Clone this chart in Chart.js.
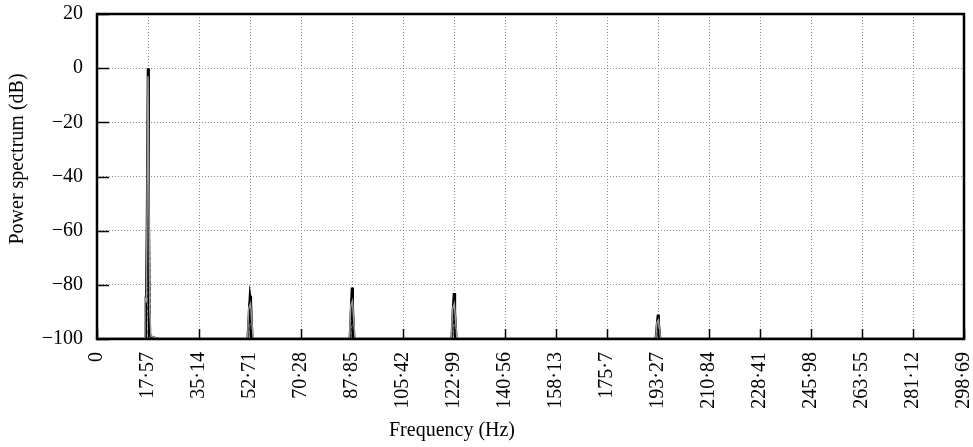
<!DOCTYPE html>
<html>
<head>
<meta charset="utf-8">
<script src="https://cdn.jsdelivr.net/npm/chart.js@4"></script>
<style>
  html, body { margin: 0; padding: 0; background: #fff; }
  #wrap { width: 973px; height: 447px; }
</style>
</head>
<body>
<div id="wrap"><canvas id="spectrum" width="973" height="447"></canvas></div>
<script>
// tick values and labels (x: Hz, y: dB)
const xTicks = [0, 17.57, 35.14, 52.71, 70.28, 87.85, 105.42, 122.99, 140.56, 158.13, 175.7, 193.27, 210.84, 228.41, 245.98, 263.55, 281.12, 298.69];
const xTickLabels = ["0", "17·57", "35·14", "52·71", "70·28", "87·85", "105·42", "122·99", "140·56", "158·13", "175·7", "193·27", "210·84", "228·41", "245·98", "263·55", "281·12", "298·69"];
const yTicks = [20, 0, -20, -40, -60, -80, -100];

// solid black spectrum
const freqA = [0, 16.8, 17.2, 17.57, 17.8, 18.0, 18.4, 20.8, 51.9, 52.3, 52.71, 53.0, 53.5, 87.1, 87.5, 87.85, 88.1, 88.6, 122.2, 122.6, 122.99, 123.3, 123.8, 192.5, 192.9, 193.27, 193.5, 194.0, 298.69];
const powA  = [-100, -100, -60, 0, -45, -97, -99, -100, -100, -92, -84, -86, -100, -100, -90, -81, -88, -100, -100, -90, -83, -90, -100, -100, -95, -91, -94, -100, -100];

// dashed spectrum
const freqB = [0, 17.0, 17.4, 17.6, 17.9, 18.3, 21.2, 52.1, 52.6, 52.8, 53.3, 87.3, 87.8, 87.9, 88.4, 122.4, 122.9, 123.0, 123.6, 192.7, 193.2, 193.3, 193.9, 298.69];
const powB  = [-100, -100, -35, -2, -50, -99, -100, -100, -86, -88, -100, -100, -83, -85, -100, -100, -85, -87, -100, -100, -92, -93, -100, -100];

// grey spectrum
const freqC = [0, 16.4, 16.5, 17.0, 17.57, 18.2, 18.6, 21.3, 51.9, 52.2, 52.9, 53.8, 87.0, 87.4, 88.0, 88.9, 122.1, 122.5, 123.1, 124.0, 192.5, 192.9, 193.4, 194.1, 298.69];
const powC  = [-100, -100, -85, -86, -3, -90, -99, -100, -100, -89, -87, -100, -100, -88, -86, -100, -100, -89, -87, -100, -100, -94, -93, -100, -100];

const pts = (xs, ys) => xs.map((x, i) => ({ x: x, y: ys[i] }));

const serif = "'Liberation Serif', 'DejaVu Serif', serif";

const frame = {
  id: "frame",
  afterDatasetsDraw(chart) {
    const { ctx, chartArea: a, scales } = chart;
    ctx.save();
    ctx.strokeStyle = "#000";
    ctx.lineWidth = 1.5;
    ctx.beginPath();
    // inward tick marks
    scales.y.ticks.forEach(t => {
      const py = Math.round(scales.y.getPixelForValue(t.value)) + 0.5;
      ctx.moveTo(a.left, py);
      ctx.lineTo(a.left + 12, py);
    });
    scales.x.ticks.forEach(t => {
      const px = Math.round(scales.x.getPixelForValue(t.value)) + 0.5;
      ctx.moveTo(px, a.bottom);
      ctx.lineTo(px, a.bottom - 10);
    });
    ctx.stroke();
    ctx.lineWidth = 2.5;
    ctx.strokeRect(a.left, a.top, a.right - a.left, a.bottom - a.top);

    // axis titles
    ctx.fillStyle = "#000";
    ctx.font = "20px " + serif;
    ctx.textAlign = "center";
    ctx.textBaseline = "middle";
    ctx.fillText("Frequency (Hz)", 452, 431);
    ctx.translate(18, 159);
    ctx.rotate(-Math.PI / 2);
    ctx.fillText("Power spectrum (dB)", 0, 0);
    ctx.restore();
  }
};

new Chart(document.getElementById("spectrum"), {
  type: "line",
  data: {
    datasets: [
      { data: pts(freqC, powC), borderColor: "#9a9a9a", borderWidth: 1.5 },
      { data: pts(freqB, powB), borderColor: "#000", borderWidth: 1.8, borderDash: [4, 2] },
      { data: pts(freqA, powA), borderColor: "#000", borderWidth: 2.5 }
    ]
  },
  options: {
    responsive: false,
    animation: false,
    layout: { padding: { top: 14, right: 9, left: 0, bottom: 0 } },
    elements: { point: { radius: 0 }, line: { tension: 0 } },
    plugins: { legend: { display: false }, tooltip: { enabled: false } },
    scales: {
      x: {
        type: "linear",
        min: 0,
        max: 298.69,
        afterBuildTicks: s => { s.ticks = xTicks.map(v => ({ value: v })); },
        afterFit: s => { s.height = 108; s.paddingLeft = 0; s.paddingRight = 0; },
        grid: { color: "#8a8a8a", lineWidth: 1, drawTicks: false },
        border: { display: false, dash: [1, 2] },
        ticks: {
          autoSkip: false,
          maxRotation: 90,
          minRotation: 90,
          padding: 13,
          color: "#000",
          font: { family: serif, size: 20 },
          callback: (v, i) => xTickLabels[i]
        }
      },
      y: {
        min: -100,
        max: 20,
        afterBuildTicks: s => { s.ticks = yTicks.map(v => ({ value: v })); },
        afterFit: s => { s.width = 97; s.paddingTop = 0; s.paddingBottom = 0; },
        grid: { color: "#8a8a8a", lineWidth: 1, drawTicks: false },
        border: { display: false, dash: [1, 2] },
        ticks: {
          padding: 14,
          color: "#000",
          font: { family: serif, size: 20 },
          callback: v => (v < 0 ? "\u2212" + Math.abs(v) : String(v))
        }
      }
    }
  },
  plugins: [frame]
});
</script>
</body>
</html>
